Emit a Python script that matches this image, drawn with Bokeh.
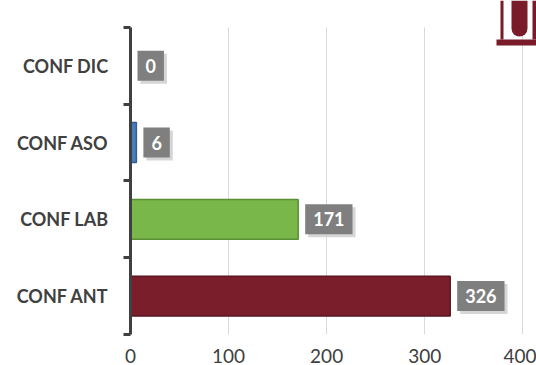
from bokeh.plotting import figure
from bokeh.models import (ColumnDataSource, FixedTicker, BoxAnnotation)
from bokeh.core.properties import value
from bokeh.embed import file_html
from bokeh.resources import INLINE

# ---- data ----
categories = ["CONF ANT", "CONF LAB", "CONF ASO", "CONF DIC"]
values = [326, 171, 6, 0]
bar_colors = ["#7A1E2C", "#79B74B", "#4A7EBB", "#4A7EBB"]
edge_colors = ["#5A1520", "#5A8F35", "#2F5F96", "#2F5F96"]
x_ticks = [0, 100, 200, 300, 400]

n = len(categories)
centers = [i + 0.5 for i in range(n)]
labels = [str(v) for v in values]

src = ColumnDataSource(dict(y=centers, v=values, color=bar_colors,
                            edge=edge_colors, lab=labels))

# frame reaches the top edge; the extra 27px headroom holds the logo
band_px = 77
p = figure(width=536, height=365, output_backend="svg", toolbar_location=None,
           x_range=(0, 414), y_range=(0, n + 27 / band_px),
           min_border_left=130, min_border_top=0, min_border_right=0,
           min_border_bottom=30)
p.outline_line_color = None
p.background_fill_color = "white"

# bars
p.hbar(y="y", right="v", left=0, height=0.52, source=src,
       fill_color="color", line_color="edge", line_width=1.5)

# value label shadows and boxes
pad = dict(left=8, right=8, top=8, bottom=8)
p.text(x="v", y="y", text="lab", source=src, x_offset=10, y_offset=3,
       text_align="left", text_baseline="middle",
       text_font=value("Lato"), text_font_style="bold", text_font_size="18px",
       text_color="#CCCCCC", background_fill_color="#CCCCCC",
       background_fill_alpha=0.8, padding=pad)
p.text(x="v", y="y", text="lab", source=src, x_offset=7, y_offset=0,
       text_align="left", text_baseline="middle",
       text_font=value("Lato"), text_font_style="bold", text_font_size="18px",
       text_color="white", background_fill_color="#7F7F7F", padding=pad)

# x axis
p.xaxis.ticker = FixedTicker(ticks=x_ticks)
p.xaxis.axis_line_color = None
p.xaxis.major_tick_line_color = None
p.xaxis.minor_tick_line_color = None
p.xaxis.major_label_text_font = "Lato"
p.xaxis.major_label_text_font_size = "19px"
p.xaxis.major_label_text_color = "#404040"
p.xaxis.major_label_standoff = 8

p.xgrid.ticker = FixedTicker(ticks=x_ticks[1:])
p.xgrid.grid_line_color = "#D9D9D9"
p.xgrid.grid_line_width = 1
p.xgrid.cross_bounds = (0, n)
p.ygrid.grid_line_color = None

# y axis: labels at centers, ticks at boundaries
p.yaxis.bounds = (0, n)
p.yaxis.ticker = FixedTicker(ticks=centers, minor_ticks=list(range(n + 1)))
p.yaxis.major_label_overrides = {c: cat for c, cat in zip(centers, categories)}
p.yaxis.axis_line_color = "#404040"
p.yaxis.axis_line_width = 3
p.yaxis.major_tick_line_color = None
p.yaxis.minor_tick_line_color = "#404040"
p.yaxis.minor_tick_line_width = 3
p.yaxis.minor_tick_out = 7
p.yaxis.minor_tick_in = 0
p.yaxis.major_label_standoff = 15
p.yaxis.major_label_text_font = "Lato"
p.yaxis.major_label_text_font_style = "bold"
p.yaxis.major_label_text_font_size = "18px"
p.yaxis.major_label_text_color = "#404040"

# decorative logo fragment (top right)
logo = "#7A1B2A"
for l, r, t, b, rad in [(496, 536, 39, 45, 0), (500, 503, 0, 39, 0),
                        (511, 527, 0, 36, dict(top_left=0, top_right=0, bottom_right=8, bottom_left=8)),
                        (532, 536, 0, 39, 0)]:
    p.add_layout(BoxAnnotation(left=l, right=r, top=t, bottom=b,
                               left_units="canvas", right_units="canvas",
                               top_units="canvas", bottom_units="canvas",
                               fill_color=logo, fill_alpha=1, line_color=None,
                               border_radius=rad, level="overlay"))

open("out.html", "w").write(file_html(p, INLINE))
